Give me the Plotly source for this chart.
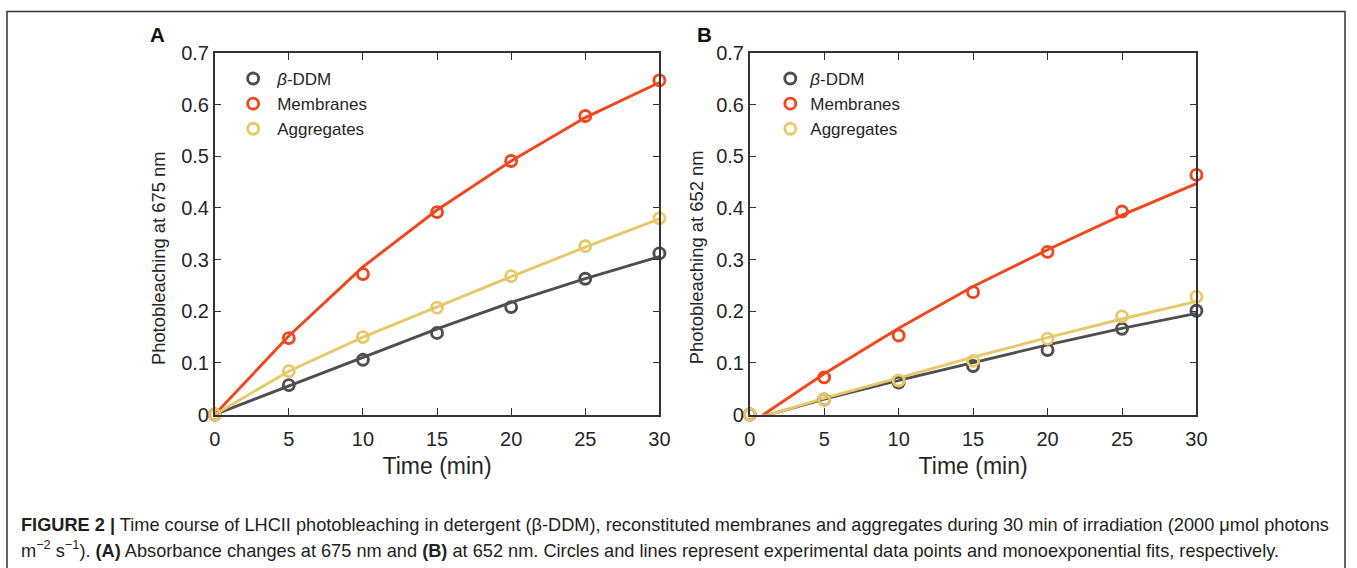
import plotly.graph_objects as go

time = [0, 5, 10, 15, 20, 25, 30]
series_names = ["<i>β</i>-DDM", "Membranes", "Aggregates"]
colors = ["#4f4f4f", "#f2461c", "#e8c96a"]

# Panel A: photobleaching at 675 nm
a_data_ddm = [0, 0.057, 0.106, 0.158, 0.208, 0.263, 0.312]
a_data_mem = [0, 0.148, 0.272, 0.392, 0.491, 0.578, 0.647]
a_data_agg = [0, 0.084, 0.150, 0.207, 0.268, 0.326, 0.380]
a_fit_ddm = [0, 0.055, 0.111, 0.166, 0.217, 0.263, 0.306]
a_fit_mem = [0, 0.152, 0.286, 0.396, 0.491, 0.575, 0.643]
a_fit_agg = [0, 0.084, 0.150, 0.209, 0.267, 0.324, 0.379]

# Panel B: photobleaching at 652 nm
b_data_ddm = [0, 0.029, 0.062, 0.094, 0.125, 0.166, 0.201]
b_data_mem = [0, 0.072, 0.153, 0.237, 0.315, 0.393, 0.464]
b_data_agg = [0, 0.029, 0.066, 0.104, 0.147, 0.190, 0.228]
b_fit_ddm = [-0.011, 0.030, 0.066, 0.101, 0.135, 0.167, 0.196]
b_fit_mem = [-0.018, 0.079, 0.167, 0.248, 0.319, 0.386, 0.447]
b_fit_agg = [-0.012, 0.032, 0.071, 0.111, 0.149, 0.185, 0.219]

x_ticks = [0, 5, 10, 15, 20, 25, 30]
y_ticks = [0, 0.1, 0.2, 0.3, 0.4, 0.5, 0.6, 0.7]
y_tick_labels = ["0", "0.1", "0.2", "0.3", "0.4", "0.5", "0.6", "0.7"]

y_title_a = "Photobleaching at 675 nm"
y_title_b = "Photobleaching at 652 nm"
x_title = "Time (min)"

caption_1 = ("<b>FIGURE 2 |</b> Time course of LHCII photobleaching in detergent (β-DDM), "
             "reconstituted membranes and aggregates during 30 min of irradiation (2000 μmol photons")
caption_2 = ("m<sup>−2</sup> s<sup>−1</sup>). <b>(A)</b> Absorbance changes at 675 nm and <b>(B)</b> at 652 nm. "
             "Circles and lines represent experimental data points and monoexponential fits, respectively.")

W, H = 1357, 568
FONT = "Liberation Sans, Arial"

# layout placement helpers (target pixel -> paper fraction, compensating page offset)
AX, SX, AY, SY = 9.1, 0.9837, 9.7, 0.9678


def px(r):
    return min(max((r - AX) / SX / W, 0.0), 1.0)


def py(r):
    return min(max(1 - (r - AY) / SY / H, 0.0), 1.0)


fig = go.Figure()

panels = [
    ("x", "y", "legend", [a_fit_ddm, a_fit_mem, a_fit_agg], [a_data_ddm, a_data_mem, a_data_agg]),
    ("x2", "y2", "legend2", [b_fit_ddm, b_fit_mem, b_fit_agg], [b_data_ddm, b_data_mem, b_data_agg]),
]
for xa, ya, lg, fits, datas in panels:
    for name, col, fit in zip(series_names, colors, fits):
        fig.add_trace(go.Scatter(x=time, y=fit, mode="lines", xaxis=xa, yaxis=ya,
                                 line=dict(color=col, width=2.9), showlegend=False,
                                 hoverinfo="skip"))
    for name, col, dat in zip(series_names, colors, datas):
        fig.add_trace(go.Scatter(x=time, y=dat, mode="markers", xaxis=xa, yaxis=ya,
                                 name=name, legend=lg, cliponaxis=False,
                                 marker=dict(symbol="circle-open", size=11, color=col,
                                             line=dict(width=2.9, color=col))))

axis_common = dict(showline=True, linecolor="#333333", linewidth=1.5, mirror="ticks",
                   ticks="inside", ticklen=7, tickwidth=1.3, tickcolor="#333333",
                   showgrid=False, zeroline=False,
                   tickfont=dict(family=FONT, size=20, color="#262626"))
xt_font = dict(family=FONT, size=23, color="#262626")
yt_font = dict(family=FONT, size=18.4, color="#262626")

leg_font = dict(family=FONT, size=17, color="#262626")

fig.update_layout(
    width=W, height=H, margin=dict(l=0, r=0, t=0, b=0),
    paper_bgcolor="white", plot_bgcolor="white",
    xaxis=dict(domain=[px(217), px(660)], range=[0, 30], tickvals=x_ticks, ticklabelstandoff=6,
               title=dict(text=x_title, standoff=9, font=xt_font), anchor="y", **axis_common),
    yaxis=dict(domain=[py(416), py(52)], range=[0, 0.7], tickvals=y_ticks, ticktext=y_tick_labels,
               anchor="x", **axis_common),
    xaxis2=dict(domain=[px(750), px(1195)], range=[0, 30], tickvals=x_ticks, ticklabelstandoff=6,
                title=dict(text=x_title, standoff=9, font=xt_font), anchor="y2", **axis_common),
    yaxis2=dict(domain=[py(416), py(52)], range=[0, 0.7], tickvals=y_ticks, ticktext=y_tick_labels,
                anchor="x2", **axis_common),
    legend=dict(x=226 / W, y=1 - 52 / H, xanchor="left", yanchor="top", bgcolor="rgba(0,0,0,0)",
                font=leg_font, tracegroupgap=0, itemwidth=38),
    legend2=dict(x=774 / W, y=1 - 52 / H, xanchor="left", yanchor="top", bgcolor="rgba(0,0,0,0)",
                 font=leg_font, tracegroupgap=0, itemwidth=30),
    shapes=[dict(type="rect", xref="paper", yref="paper", x0=1 / W, x1=1356 / W,
                 y0=-0.05, y1=1 - 0.5 / H, line=dict(color="#333333", width=1.5))],
    annotations=[
        dict(text=y_title_a, x=px(161), y=py(258), xref="paper", yref="paper", textangle=-90,
             showarrow=False, xanchor="center", yanchor="middle", font=yt_font),
        dict(text=y_title_b, x=px(697), y=py(258), xref="paper", yref="paper", textangle=-90,
             showarrow=False, xanchor="center", yanchor="middle", font=yt_font),
        dict(text="<b>A</b>", x=px(160), y=py(33), xref="paper", yref="paper",
             showarrow=False, xanchor="center", yanchor="middle",
             font=dict(family=FONT, size=20.5, color="#111111")),
        dict(text="<b>B</b>", x=px(705), y=py(33), xref="paper", yref="paper",
             showarrow=False, xanchor="center", yanchor="middle",
             font=dict(family=FONT, size=20.5, color="#111111")),
        dict(text=caption_1, x=px(22), y=py(527), xref="paper", yref="paper",
             showarrow=False, xanchor="left", yanchor="middle",
             font=dict(family=FONT, size=18.2, color="#231f20")),
        dict(text=caption_2, x=px(22), y=py(551), xref="paper", yref="paper",
             showarrow=False, xanchor="left", yanchor="middle",
             font=dict(family=FONT, size=18.2, color="#231f20")),
    ],
)

fig.write_html("out.html")
